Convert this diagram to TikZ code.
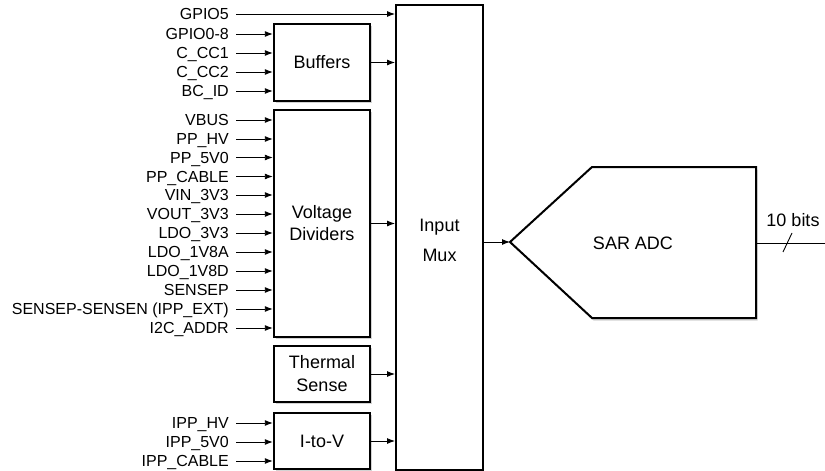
\documentclass[tikz,border=0pt]{standalone}
\usepackage{fontspec}
\setmainfont{Liberation Sans}
\usetikzlibrary{shadows,arrows.meta}
\tikzset{
    blocco/.style={draw, line width=2.4pt, fill=white, align=center,
        drop shadow={shadow xshift=1.5pt, shadow yshift=-2pt, opacity=0.35},
        font=\fontsize{18}{22}\selectfont, inner sep=0pt},
    ingr/.style={anchor=east, inner xsep=7pt, inner ysep=0pt,
        text height=11.5pt, text depth=0pt, font=\fontsize{16}{18}\selectfont},
    freccia/.style={-{Latex[length=8pt,width=6pt]}, line width=0.9pt}
}
\begin{document}
\begin{tikzpicture}[x=1pt,y=-1pt]
    \useasboundingbox (0,0) rectangle (825,471);
    %blocchi
    \node[blocco, minimum width=96, minimum height=77] (buf) at (322,62.5) {Buffers};
    \node[blocco, minimum width=96, minimum height=227] (volt) at (322,223.5) {Voltage\\Dividers};
    \node[blocco, minimum width=96, minimum height=56, font=\fontsize{18}{23}\selectfont] (therm) at (322,374) {Thermal\\Sense};
    \node[blocco, minimum width=96, minimum height=56] (itov) at (322,441) {I-to-V};
    %mux
    \node[draw, line width=2pt, fill=white, minimum width=87, minimum height=465] (mux) at (439.5,237.5) {};
    \node[align=center, font=\fontsize{18}{30}\selectfont] (muxtxt) at (439.5,240) {Input\\Mux};
    %adc
    \coordinate (adctip) at (510,242);
    \draw[line width=2pt, fill=white,
        drop shadow={shadow xshift=1.5pt, shadow yshift=-2.5pt, opacity=0.35}]
        (adctip) -- (592,167) -- (756,167) -- (756,318) -- (592,318) -- cycle;
    \node[font=\fontsize{18}{22}\selectfont] (adc) at (633,243) {SAR ADC};
    \coordinate (adcout) at (756,243);
    \coordinate (bits) at (825,243);
    %ingresso diretto
    \node[ingr] (gpio5) at (236,14) {GPIO5};
    \draw[freccia] (gpio5.east) -- (gpio5.east -| mux.west);
    %ingressi buffers
    \node[ingr] (gpio08) at (236,34) {GPIO0-8};
    \node[ingr] (ccone) at (236,53) {C\_CC1};
    \node[ingr] (cctwo) at (236,72) {C\_CC2};
    \node[ingr] (bcid) at (236,91) {BC\_ID};
    \draw[freccia] (gpio08.east) -- (gpio08.east -| buf.west);
    \draw[freccia] (ccone.east) -- (ccone.east -| buf.west);
    \draw[freccia] (cctwo.east) -- (cctwo.east -| buf.west);
    \draw[freccia] (bcid.east) -- (bcid.east -| buf.west);
    %ingressi partitori
    \node[ingr] (vbus) at (236,120) {VBUS};
    \node[ingr] (pphv) at (236,139) {PP\_HV};
    \node[ingr] (ppfive) at (236,157.5) {PP\_5V0};
    \node[ingr] (ppcable) at (236,176.5) {PP\_CABLE};
    \node[ingr] (vin) at (236,195) {VIN\_3V3};
    \node[ingr] (vout) at (236,214) {VOUT\_3V3};
    \node[ingr] (ldothree) at (236,233) {LDO\_3V3};
    \node[ingr] (ldoa) at (236,252) {LDO\_1V8A};
    \node[ingr] (ldod) at (236,271) {LDO\_1V8D};
    \node[ingr] (sensep) at (236,290) {SENSEP};
    \node[ingr] (ippext) at (236,309) {SENSEP-SENSEN (IPP\_EXT)};
    \node[ingr] (itwoc) at (236,328) {I2C\_ADDR};
    \draw[freccia] (vbus.east) -- (vbus.east -| volt.west);
    \draw[freccia] (pphv.east) -- (pphv.east -| volt.west);
    \draw[freccia] (ppfive.east) -- (ppfive.east -| volt.west);
    \draw[freccia] (ppcable.east) -- (ppcable.east -| volt.west);
    \draw[freccia] (vin.east) -- (vin.east -| volt.west);
    \draw[freccia] (vout.east) -- (vout.east -| volt.west);
    \draw[freccia] (ldothree.east) -- (ldothree.east -| volt.west);
    \draw[freccia] (ldoa.east) -- (ldoa.east -| volt.west);
    \draw[freccia] (ldod.east) -- (ldod.east -| volt.west);
    \draw[freccia] (sensep.east) -- (sensep.east -| volt.west);
    \draw[freccia] (ippext.east) -- (ippext.east -| volt.west);
    \draw[freccia] (itwoc.east) -- (itwoc.east -| volt.west);
    %ingressi corrente
    \node[ingr] (ipphv) at (236,423) {IPP\_HV};
    \node[ingr] (ippfive) at (236,442) {IPP\_5V0};
    \node[ingr] (ippcable) at (236,461) {IPP\_CABLE};
    \draw[freccia] (ipphv.east) -- (ipphv.east -| itov.west);
    \draw[freccia] (ippfive.east) -- (ippfive.east -| itov.west);
    \draw[freccia] (ippcable.east) -- (ippcable.east -| itov.west);
    %uscite blocchi
    \draw[freccia] (buf.east) -- (buf.east -| mux.west);
    \draw[freccia] (volt.east) -- (volt.east -| mux.west);
    \draw[freccia] (therm.east) -- (therm.east -| mux.west);
    \draw[freccia] (itov.east) -- (itov.east -| mux.west);
    %mux verso adc
    \draw[freccia] (adctip -| mux.east) -- (adctip);
    %uscita
    \draw[line width=0.9pt] (adcout) -- (bits);
    \draw[line width=0.9pt] (783,252) -- (792,233);
    \node[font=\fontsize{18}{22}\selectfont] (bitstxt) at (793,220) {10 bits};
\end{tikzpicture}
\end{document}
